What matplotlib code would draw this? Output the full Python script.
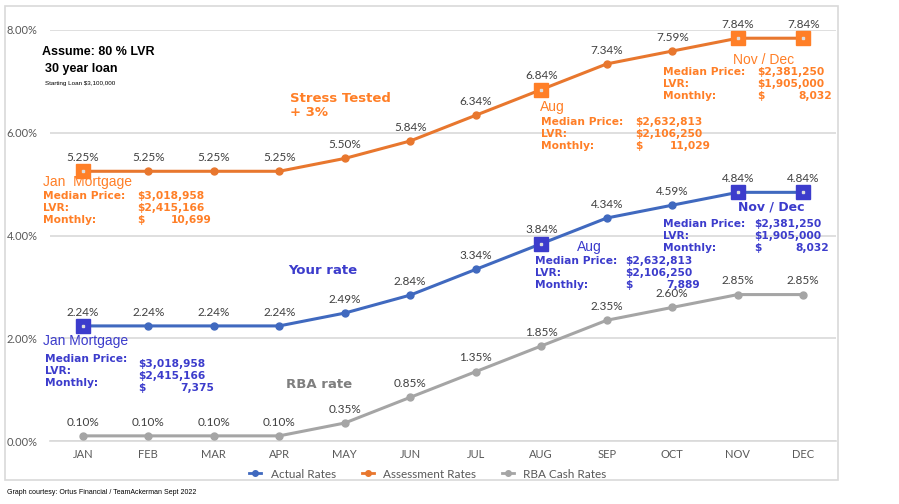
import numpy as np
import matplotlib.pyplot as plt
from matplotlib.patches import Rectangle
from matplotlib.lines import Line2D

months = ["JAN", "FEB", "MAR", "APR", "MAY", "JUN", "JUL", "AUG", "SEP", "OCT", "NOV", "DEC"]
actual = [2.24, 2.24, 2.24, 2.24, 2.49, 2.84, 3.34, 3.84, 4.34, 4.59, 4.84, 4.84]
assessment = [5.25, 5.25, 5.25, 5.25, 5.50, 5.84, 6.34, 6.84, 7.34, 7.59, 7.84, 7.84]
rba = [0.10, 0.10, 0.10, 0.10, 0.35, 0.85, 1.35, 1.85, 2.35, 2.60, 2.85, 2.85]
yticks = [0, 2, 4, 6, 8]
highlight = [0, 7, 10, 11]  # Jan, Aug, Nov, Dec

BLUE = "#4069BF"
ORANGE = "#E8772E"
GRAY = "#A5A5A5"
TXT_BLUE = "#3C3CCC"
TXT_ORANGE = "#FF7F27"
LBL = "#404040"

W, H = 899, 504
fig = plt.figure(figsize=(W / 100, H / 100), dpi=100)
plt.rcParams['font.family'] = ['Liberation Sans', 'DejaVu Sans']


def px(x, y):
    return x / W, 1 - y / H


# outer chart border
fig.patches.append(Rectangle(px(5, 480), 833 / W, 474 / H, transform=fig.transFigure,
                             fill=False, edgecolor="#D9D9D9", lw=1.2))

ax = fig.add_axes([50 / W, 1 - 441 / H, 786 / W, 411 / H])
x = np.arange(len(months)) + 0.5
ax.set_xlim(0, 12)
ax.set_ylim(0, 8)
for s in ["top", "right", "left"]:
    ax.spines[s].set_visible(False)
ax.spines["bottom"].set_color("#D9D9D9")
ax.spines["bottom"].set_linewidth(1.2)
ax.set_yticks(yticks)
ax.set_yticklabels([f"{v:.2f}%" for v in yticks], fontsize=8, color="#595959",
                   family=["Lato", "DejaVu Sans"])
ax.tick_params(axis="y", length=0, pad=9)
ax.set_xticks(x)
ax.set_xticklabels(months, fontsize=8, color="#595959", family=["Lato", "DejaVu Sans"])
ax.tick_params(axis="x", length=0, pad=6)
ax.yaxis.grid(True, color="#D9D9D9", lw=1.2)
ax.set_axisbelow(True)

series = [(actual, BLUE, "Actual Rates"), (assessment, ORANGE, "Assessment Rates"),
          (rba, GRAY, "RBA Cash Rates")]
for vals, col, name in series:
    ax.plot(x, vals, color=col, lw=2.2, marker="o", ms=5, label=name, zorder=3)
    for xi, v in zip(x, vals):
        ax.annotate(f"{v:.2f}%", (xi, v), xytext=(0, 6), textcoords="offset points",
                    ha="center", va="bottom", fontsize=8.5, color=LBL,
                    family=["Lato", "DejaVu Sans"], zorder=4)

# highlighted squares
for vals, col in [(assessment, TXT_ORANGE), (actual, TXT_BLUE)]:
    hx = [x[i] for i in highlight]
    hy = [vals[i] for i in highlight]
    ax.plot(hx, hy, ls="none", marker="s", ms=10, color=col, zorder=5)
    ax.plot(hx, hy, ls="none", marker="s", ms=2, color="#DDDDDD", zorder=6)

# legend
handles = [Line2D([0], [0], color=c, lw=2, marker="o", ms=4) for _, c, _ in series]
fig.legend(handles, [n for _, _, n in series], loc="center", bbox_to_anchor=px(428, 474),
           ncol=3, frameon=False, handlelength=1.0, columnspacing=2.2,
           labelcolor="#595959", prop={"family": ["Lato", "DejaVu Sans"], "size": 8.5})


def t(xp, yp, s, **kw):
    kw.setdefault("va", "center")
    fig.text(*px(xp, yp), s, **kw)


# top-left notes
t(42, 52, "Assume: 80 % LVR", fontsize=9, weight="bold", color="black")
t(45, 69, "30 year loan", fontsize=9, weight="bold", color="black")
t(45, 83, "Starting Loan $3,100,000", fontsize=4.5, color="black")
t(7, 493, "Graph courtesy: Ortus Financial / TeamAckerman Sept 2022", fontsize=5, color="black")

t(290, 98, "Stress Tested", fontsize=9.5, weight="bold", color=TXT_ORANGE,
  family=["DejaVu Sans"])
t(290, 113, "+ 3%", fontsize=9.5, weight="bold", color=TXT_ORANGE, family=["DejaVu Sans"])
t(288, 270, "Your rate", fontsize=9.5, weight="bold", color=TXT_BLUE, family=["DejaVu Sans"])
t(286, 384, "RBA rate", fontsize=9.5, weight="bold", color="#7F7F7F", family=["DejaVu Sans"])

BF = dict(fontsize=7.7, weight="bold", family=["DejaVu Sans"])


def block(x0, x1, xr, ys, vals, col, dy=0):
    labels = ["Median Price:", "LVR:", "Monthly:"]
    for lab, y in zip(labels, ys):
        t(x0, y, lab, color=col, **BF)
    t(x1, ys[0] + dy, vals[0], color=col, **BF)
    t(x1, ys[1] + dy, vals[1], color=col, **BF)
    t(x1, ys[2] + dy, "$", color=col, **BF)
    t(xr, ys[2] + dy, vals[2], color=col, ha="right", **BF)


# orange blocks
t(43, 182, "Jan  Mortgage", fontsize=10, color=TXT_ORANGE)
block(43, 137, 212, [196, 208, 220], ["$3,018,958", "$2,415,166", "10,699"], TXT_ORANGE)
t(540, 107, "Aug", fontsize=10, color=TXT_ORANGE)
block(541, 635, 711, [122, 134, 146], ["$2,632,813", "$2,106,250", "11,029"], TXT_ORANGE)
t(733, 60, "Nov / Dec", fontsize=10, color=TXT_ORANGE)
block(663, 757, 832, [72, 84, 96], ["$2,381,250", "$1,905,000", "8,032"], TXT_ORANGE)

# blue blocks
t(43, 341, "Jan Mortgage", fontsize=10, color=TXT_BLUE)
block(45, 138, 214, [359, 371, 383], ["$3,018,958", "$2,415,166", "7,375"], TXT_BLUE, dy=5)
t(577, 247, "Aug", fontsize=10, color=TXT_BLUE)
block(535, 625, 700, [261, 273, 285], ["$2,632,813", "$2,106,250", "7,889"], TXT_BLUE)
t(738, 207, "Nov / Dec", fontsize=9, weight="bold", color=TXT_BLUE, family=["DejaVu Sans"])
block(663, 754, 829, [224, 236, 248], ["$2,381,250", "$1,905,000", "8,032"], TXT_BLUE)

fig.savefig("out.png", dpi=100)
